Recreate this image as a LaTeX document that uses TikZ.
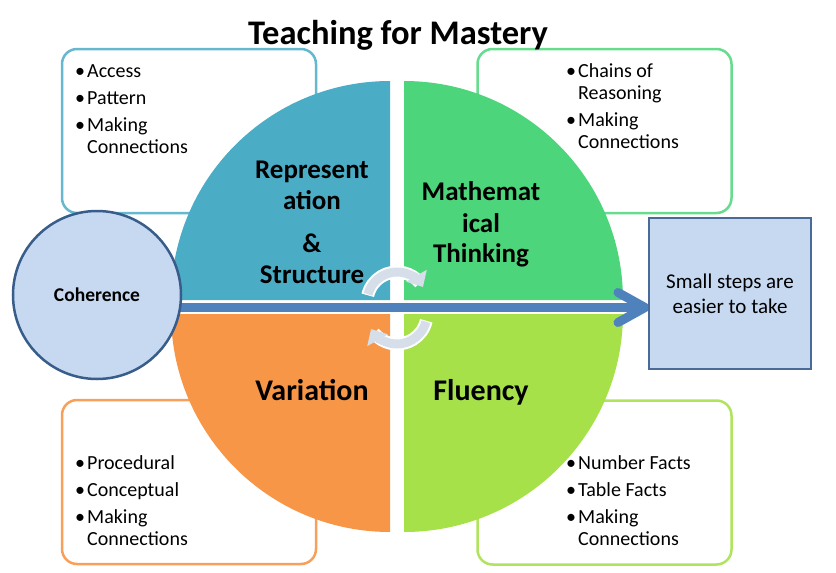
\documentclass[tikz,border=0pt]{standalone}
\usepackage{fontspec}
\setmainfont{Carlito}
\usetikzlibrary{arrows.meta,calc}
\definecolor{qblue}{HTML}{4BACC6}
\definecolor{qgreen}{HTML}{4CD57A}
\definecolor{qorange}{HTML}{F79646}
\definecolor{qlime}{HTML}{A6E14A}
\definecolor{lightbl}{HTML}{C6D9F1}
\definecolor{darkbl}{HTML}{385D8A}
\definecolor{ssbord}{HTML}{4A6A98}
\definecolor{arrowbl}{HTML}{4F81BD}
\definecolor{cyc}{HTML}{D5DEE9}
\newcommand{\mybul}{\makebox[12pt][l]{\textbullet}}
\begin{document}
\begin{tikzpicture}[x=1pt,y=-1pt,
  infobox/.style={draw, line width=2.5pt, rounded corners=15pt, fill=white,
    minimum width=254pt, minimum height=164pt, inner sep=0},
  blist/.style={anchor=north west, inner sep=0, align=left,
    font=\fontsize{20}{22}\selectfont},
  qlabel/.style={font=\fontsize{27}{30}\selectfont\bfseries, anchor=base, inner sep=0},
  biglabel/.style={font=\fontsize{30}{33}\selectfont\bfseries, anchor=base, inner sep=0},
  cycunder/.style={white, line width=13pt},
  cycarrow/.style={cyc, line width=9pt, -{Triangle[width=23pt,length=13pt]}}]
\useasboundingbox (0,0) rectangle (836,573);

% corner boxes
\node[infobox, draw=qblue!85] (tlbox) at (189,131) {};
\node[infobox, draw=qgreen!85] (trbox) at (604.5,131) {};
\node[infobox, draw=qorange!90] (blbox) at (189,482) {};
\node[infobox, draw=qlime!90] (brbox) at (604.5,482.5) {};

% pie quadrants
\fill[qblue] (390,300) -- (171,300) arc (180:270:219) -- cycle;
\fill[qgreen] (404,300) -- (404,81) arc (270:360:219) -- cycle;
\fill[qlime] (404,313) -- (623,313) arc (0:90:219) -- cycle;
\fill[qorange] (390,313) -- (390,532) arc (90:180:219) -- cycle;

% main arrow shaft
\coordinate (tip) at (645,307.5);
\coordinate (cohc) at (97,295);
\draw[white, line width=13pt] (cohc |- tip) -- (tip);
\draw[arrowbl, line width=9pt] (cohc |- tip) -- (tip);

% coherence circle
\node[circle, draw=darkbl, fill=lightbl, line width=2.5pt, minimum size=168pt,
  inner sep=0, font=\fontsize{19.5}{22}\selectfont\bfseries] (coh) at (cohc) {Coherence};

% chevron head
\draw[arrowbl, line width=9pt, line cap=round, line join=round]
  ($(tip)+(-27,-15)$) -- (tip) -- ($(tip)+(-27,15)$);

% small steps box
\node[draw=ssbord, fill=lightbl, line width=2.5pt, minimum width=162pt,
  minimum height=151pt, inner sep=0, align=center,
  font=\fontsize{21}{25}\selectfont] (ss) at (730,293.5) {Small steps are\\easier to take};

% title
\node[font=\fontsize{34.5}{38}\selectfont\bfseries, anchor=base, inner sep=0] (title)
  at (398,44) {Teaching for Mastery};

% lists
\node[blist] (tltext) at (75,62) {\begin{tabular}{@{}l@{}}
  \mybul Access\\[5pt] \mybul Pattern\\[5pt] \mybul Making\\ \hspace{12pt}Connections
  \end{tabular}};
\node[blist] (trtext) at (566,62) {\begin{tabular}{@{}l@{}}
  \mybul Chains of\\ \hspace{12pt}Reasoning\\[5pt] \mybul Making\\ \hspace{12pt}Connections
  \end{tabular}};
\node[blist] (bltext) at (75,453.6) {\begin{tabular}{@{}l@{}}
  \mybul Procedural\\[5pt] \mybul Conceptual\\[5pt] \mybul Making\\ \hspace{12pt}Connections
  \end{tabular}};
\node[blist] (brtext) at (566,453.6) {\begin{tabular}{@{}l@{}}
  \mybul Number Facts\\[5pt] \mybul Table Facts\\[5pt] \mybul Making\\ \hspace{12pt}Connections
  \end{tabular}};

% quadrant labels
\node[qlabel] (rep1) at (312,178) {Represent};
\node[qlabel] (rep2) at (312,209) {ation};
\node[qlabel] (rep3) at (312,252) {\&};
\node[qlabel] (rep4) at (312,283) {Structure};
\node[qlabel] (mat1) at (481,200) {Mathemat};
\node[qlabel] (mat2) at (481,232) {ical};
\node[qlabel] (mat3) at (481,262) {Thinking};
\node[biglabel] (var) at (312,400) {Variation};
\node[biglabel] (flu) at (481,400) {Fluency};

% cycle arrows
\coordinate (cc1) at (397,302);
\coordinate (cc2) at (397,314);
\draw[cycunder] ($(cc1)+(193:30)$) arc (193:320:30);
\draw[cycarrow] ($(cc1)+(195:30)$) arc (195:330:30);
\draw[cycunder] ($(cc2)+(13:30)$) arc (13:140:30);
\draw[cycarrow] ($(cc2)+(15:30)$) arc (15:150:30);
\end{tikzpicture}
\end{document}
